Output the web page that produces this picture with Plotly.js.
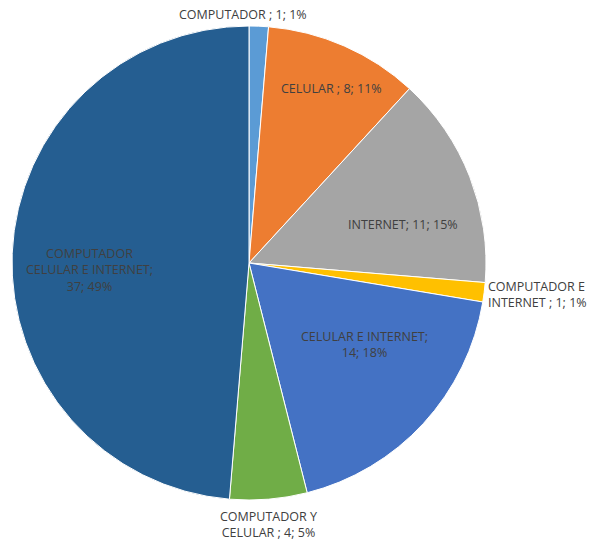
<!DOCTYPE html>
<html>
<head>
<meta charset="utf-8">
<script src="https://cdn.plot.ly/plotly-3.0.1.min.js"></script>
<style>html,body{margin:0;padding:0;background:#fff;}#chart{width:597px;height:544px;}</style>
</head>
<body>
<div id="chart"></div>
<script>
const categories = ["COMPUTADOR ", "CELULAR", "INTERNET", "COMPUTADOR E INTERNET", "CELULAR E INTERNET", "COMPUTADOR Y CELULAR", "COMPUTADOR CELULAR E INTERNET"];
const values = [1, 8, 11, 1, 14, 4, 37];
const percentLabels = ["1%", "11%", "15%", "1%", "18%", "5%", "49%"];
const colors = ["#5B9BD5", "#ED7D31", "#A5A5A5", "#FFC000", "#4472C4", "#70AD47", "#255E91"];
const labelTexts = [
  "COMPUTADOR ; 1; 1%",
  "CELULAR ; 8; 11%",
  "INTERNET; 11; 15%",
  "COMPUTADOR E<br>INTERNET ; 1; 1%",
  "CELULAR E INTERNET;<br>14; 18%",
  "COMPUTADOR Y<br>CELULAR ; 4; 5%",
  "COMPUTADOR<br>CELULAR E INTERNET;<br>37; 49%"
];
const labelPos = [[243, 14, "center"], [331, 89, "center"], [403, 224, "center"], [486, 294, "left"], [364, 344, "center"], [268, 524, "center"], [89, 270, "center"]];

const W = 597, H = 544;
const trace = {
  type: "pie",
  labels: categories,
  values: values,
  sort: false,
  direction: "clockwise",
  rotation: 0,
  textinfo: "none",
  hoverinfo: "label+value+percent",
  marker: {colors: colors, line: {color: "#ffffff", width: 1}},
  domain: {x: [12 / W, 486 / W], y: [1 - 500 / H, 1 - 26 / H]},
  showlegend: false
};
const annotations = labelTexts.map((t, i) => ({
  text: t,
  x: labelPos[i][0] / W,
  y: 1 - labelPos[i][1] / H,
  xref: "paper", yref: "paper",
  xanchor: labelPos[i][2], yanchor: "middle",
  align: labelPos[i][2],
  showarrow: false,
  font: {family: "Open Sans, sans-serif", size: 12.5, color: "#404040"}
}));
Plotly.newPlot("chart", [trace], {
  width: W, height: H,
  margin: {l: 0, r: 0, t: 0, b: 0},
  paper_bgcolor: "#ffffff",
  annotations: annotations
}, {displayModeBar: false});
</script>
</body>
</html>
